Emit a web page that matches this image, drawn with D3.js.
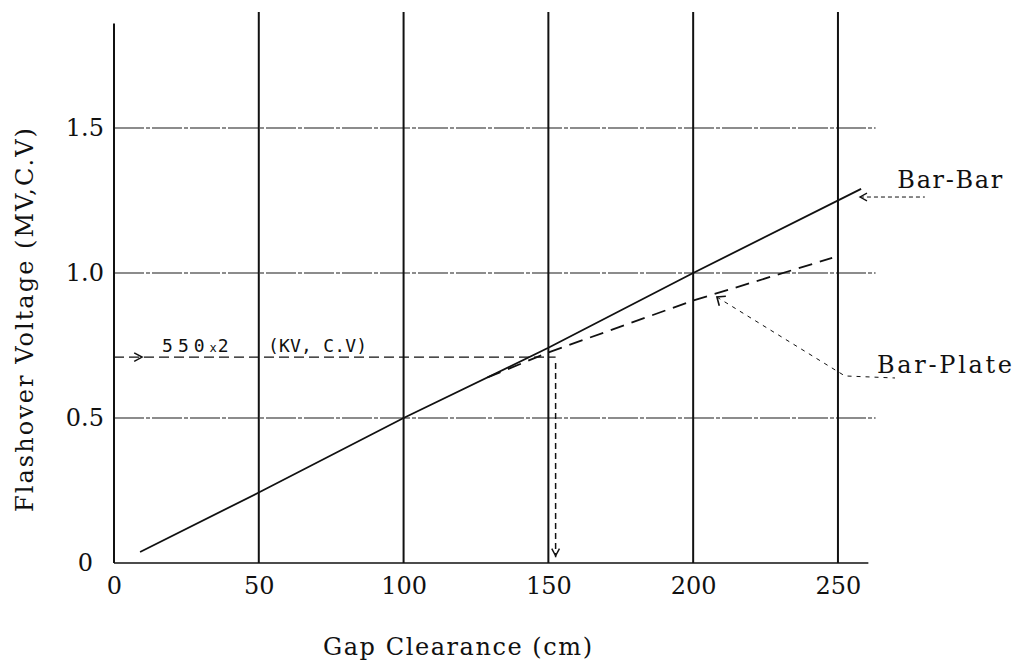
<!DOCTYPE html>
<html>
<head>
<meta charset="utf-8">
<script src="https://cdn.jsdelivr.net/npm/d3@7"></script>
<style>
  body { margin: 0; background: #fff; }
  svg { display: block; }
  text { font-family: "DejaVu Serif", "Liberation Serif", serif; fill: #111; }
</style>
</head>
<body>
<svg id="chart"></svg>
<script>
// values
const xTicks = [0, 50, 100, 150, 200, 250];
const yTicks = [0, 0.5, 1.0, 1.5];
const yTickLabels = ['0', '0.5', '1.0', '1.5'];

// Bar-Bar (solid) and Bar-Plate (dashed) curves, gap in cm / voltage in MV
const barBarGap = [9, 50, 100, 150, 200, 258];
const barBarVolt = [0.038, 0.243, 0.5, 0.742, 1.0, 1.29];
const barPlateGap = [129, 150, 200, 248];
const barPlateVolt = [0.64, 0.726, 0.905, 1.052];

// 550 x 2 kV reference level
const refVolt = 0.71;
const refGap = 152.5;

const width = 1018;
const height = 666;

const x = d3.scaleLinear().domain([0, 263]).range([114, 875.6]);
const y = d3.scaleLinear().domain([0, 1.9]).range([563, 12]);

const svg = d3.select('#chart')
    .attr('width', width)
    .attr('height', height);

svg.append('rect').attr('width', width).attr('height', height).attr('fill', '#fff');

const ink = '#111';

// horizontal grid lines (thin, slightly broken like the scan)
svg.append('g').selectAll('line')
    .data(yTicks.filter(d => d > 0))
    .enter().append('line')
    .attr('x1', x(0)).attr('x2', x(263))
    .attr('y1', d => y(d)).attr('y2', d => y(d))
    .attr('stroke', '#1a1a1a')
    .attr('stroke-width', 1.2)
    .attr('stroke-dasharray', '30,2,4,2');

// vertical grid lines
svg.append('g').selectAll('line')
    .data(xTicks.filter(d => d > 0))
    .enter().append('line')
    .attr('x1', d => x(d)).attr('x2', d => x(d))
    .attr('y1', y(0)).attr('y2', y(1.9))
    .attr('stroke', ink)
    .attr('stroke-width', 2);

// axes lines
svg.append('line')
    .attr('x1', x(0)).attr('x2', x(0))
    .attr('y1', y(0)).attr('y2', y(1.86))
    .attr('stroke', ink).attr('stroke-width', 2);
svg.append('line')
    .attr('x1', x(0)).attr('x2', x(260.5))
    .attr('y1', y(0)).attr('y2', y(0))
    .attr('stroke', ink).attr('stroke-width', 1.6);

// tick labels through d3 axes
const xAxis = svg.append('g')
    .attr('transform', `translate(0,${y(0)})`)
    .call(d3.axisBottom(x).tickValues(xTicks).tickSize(0).tickPadding(14).tickFormat(d3.format('d')));
xAxis.select('.domain').remove();
xAxis.selectAll('text')
    .style('font-family', '"DejaVu Serif", serif')
    .style('font-size', '24px')
    .attr('fill', ink);

const yAxis = svg.append('g')
    .attr('transform', `translate(${x(0)},0)`)
    .call(d3.axisLeft(y).tickValues(yTicks).tickSize(0).tickPadding(10)
        .tickFormat((d, i) => yTickLabels[i]));
yAxis.select('.domain').remove();
yAxis.selectAll('text')
    .style('font-family', '"DejaVu Serif", serif')
    .style('font-size', '24px')
    .attr('fill', ink)
    .attr('dx', d => d === 0 ? -11 : 0);

// axis titles
svg.append('text')
    .attr('x', 323).attr('y', 655)
    .attr('textLength', 269).attr('lengthAdjust', 'spacing')
    .style('font-size', '24px')
    .text('Gap Clearance (cm)');

svg.append('text')
    .attr('transform', `translate(33,512) rotate(-90)`)
    .attr('textLength', 384).attr('lengthAdjust', 'spacing')
    .style('font-size', '24px')
    .text('Flashover Voltage (MV,C.V)');

// curves
const line = d3.line().x(d => x(d[0])).y(d => y(d[1]));

svg.append('path')
    .datum(d3.zip(barBarGap, barBarVolt))
    .attr('d', line)
    .attr('fill', 'none')
    .attr('stroke', ink)
    .attr('stroke-width', 1.8);

svg.append('path')
    .datum(d3.zip(barPlateGap, barPlateVolt))
    .attr('d', line)
    .attr('fill', 'none')
    .attr('stroke', ink)
    .attr('stroke-width', 1.8)
    .attr('stroke-dasharray', '14,8');

// 550x2 reference level: dashed across, then down to the gap axis
svg.append('path')
    .attr('d', line([[0, refVolt], [refGap, refVolt]]))
    .attr('fill', 'none').attr('stroke', ink)
    .attr('stroke-width', 1.3).attr('stroke-dasharray', '10,5');
svg.append('path')
    .attr('d', line([[refGap, refVolt - 0.02], [refGap, 0.02]]))
    .attr('fill', 'none').attr('stroke', ink)
    .attr('stroke-width', 1.5).attr('stroke-dasharray', '6,4');

// arrow heads
const arrowHead = (tx, ty, ang, len = 9, spread = 0.5) => {
    const a1 = ang + Math.PI - spread, a2 = ang + Math.PI + spread;
    return `M${tx + len * Math.cos(a1)},${ty + len * Math.sin(a1)}L${tx},${ty}L${tx + len * Math.cos(a2)},${ty + len * Math.sin(a2)}`;
};
svg.append('path')
    .attr('d', arrowHead(x(9.7), y(refVolt), 0))
    .attr('fill', 'none').attr('stroke', ink).attr('stroke-width', 1.5);
svg.append('path')
    .attr('d', arrowHead(x(refGap), y(0.025), Math.PI / 2, 8))
    .attr('fill', 'none').attr('stroke', ink).attr('stroke-width', 1.5);

const refLabel = svg.append('text')
    .attr('x', x(16.6)).attr('y', y(0.726))
    .style('font-family', '"DejaVu Sans Mono", monospace')
    .style('font-size', '18px')
    .attr('letter-spacing', 5);
refLabel.append('tspan').text('550');
refLabel.append('tspan').style('font-size', '12px').attr('letter-spacing', 1).text('x');
refLabel.append('tspan').text('2');

svg.append('text')
    .attr('x', x(53.2)).attr('y', y(0.726))
    .style('font-family', '"DejaVu Sans Mono", monospace')
    .style('font-size', '18px')
    .attr('textLength', 99).attr('lengthAdjust', 'spacing')
    .text('(KV, C.V)');

// Bar-Bar label and pointer
svg.append('path')
    .attr('d', line([[257.6, 1.262], [280, 1.262]]))
    .attr('fill', 'none').attr('stroke', ink)
    .attr('stroke-width', 1).attr('stroke-dasharray', '4,3');
svg.append('path')
    .attr('d', arrowHead(x(257.6), y(1.262), Math.PI, 8))
    .attr('fill', 'none').attr('stroke', ink).attr('stroke-width', 1.3);
svg.append('text')
    .attr('x', x(270.5)).attr('y', y(1.292))
    .attr('textLength', 105).attr('lengthAdjust', 'spacing')
    .style('font-size', '24px')
    .text('Bar-Bar');

// Bar-Plate label and pointer
svg.append('path')
    .attr('d', line([[208.2, 0.917], [252.4, 0.645], [269.7, 0.638]]))
    .attr('fill', 'none').attr('stroke', ink)
    .attr('stroke-width', 1).attr('stroke-dasharray', '4,5');
svg.append('path')
    .attr('d', arrowHead(x(208.2), y(0.917), Math.atan2(y(0.917) - y(0.87), x(208.2) - x(215)), 9, 0.7))
    .attr('fill', 'none').attr('stroke', ink).attr('stroke-width', 1.6);
svg.append('text')
    .attr('x', x(263.5)).attr('y', y(0.656))
    .attr('textLength', 135).attr('lengthAdjust', 'spacing')
    .style('font-size', '24px')
    .text('Bar-Plate');
</script>
</body>
</html>
